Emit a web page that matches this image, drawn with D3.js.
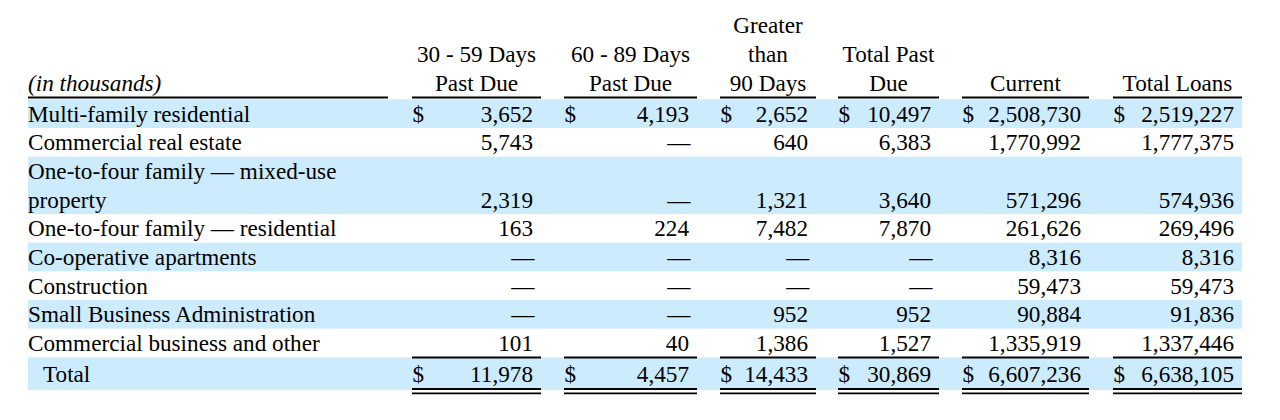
<!DOCTYPE html>
<html>
<head>
<meta charset="utf-8">
<script src="https://cdn.jsdelivr.net/npm/d3@7"></script>
<style>
  html, body { margin: 0; padding: 0; background: #ffffff; }
  svg { display: block; }
  text { font-family: "Liberation Serif", "Times New Roman", serif; font-size: 23.2px; fill: #000; }
</style>
</head>
<body>
<svg id="chart" width="1280" height="420"></svg>
<script>
// ---------- data ----------
const unitsLabel = "(in thousands)";
const categories = [
  "Multi-family residential",
  "Commercial real estate",
  "One-to-four family \u2014 mixed-use property",
  "One-to-four family \u2014 residential",
  "Co-operative apartments",
  "Construction",
  "Small Business Administration",
  "Commercial business and other"
];
const totalLabel = "Total";
const columnHeaders = [
  ["30 - 59 Days", "Past Due"],
  ["60 - 89 Days", "Past Due"],
  ["Greater", "than", "90 Days"],
  ["Total Past", "Due"],
  ["Current"],
  ["Total Loans"]
];
const days30to59   = [3652, 5743, 2319, 163, null, null, null, 101];
const days60to89   = [4193, null, null, 224, null, null, null, 40];
const days90plus   = [2652, 640, 1321, 7482, null, null, 952, 1386];
const totalPastDue = [10497, 6383, 3640, 7870, null, null, 952, 1527];
const currentLoans = [2508730, 1770992, 571296, 261626, 8316, 59473, 90884, 1335919];
const totalLoans   = [2519227, 1777375, 574936, 269496, 8316, 59473, 91836, 1337446];
const columnTotals = [11978, 4457, 14433, 30869, 6607236, 6638105];

const series = [days30to59, days60to89, days90plus, totalPastDue, currentLoans, totalLoans];

// ---------- layout ----------
const svg = d3.select("#chart");
const labelX = 28, labelRight = 388, bandRight = 1242;
const colLeft  = d3.scaleOrdinal().domain(d3.range(6)).range([412, 564, 720, 838, 962, 1113]);
const colRight = d3.scaleOrdinal().domain(d3.range(6)).range([541, 697, 816, 939, 1089, 1242]);
const bandColor = "#ccebfd";
const lineH = 28.67;
const top0 = 99.3;
const wrapWidth = 360;
const fmt = d3.format(",");

// word wrap for labels
const measurer = svg.append("text").attr("visibility", "hidden");
function wrap(str) {
  const words = str.split(" ");
  const lines = [];
  let cur = "";
  words.forEach(w => {
    const test = cur ? cur + " " + w : w;
    measurer.text(test);
    if (measurer.node().getComputedTextLength() > wrapWidth && cur) {
      lines.push(cur); cur = w;
    } else cur = test;
  });
  lines.push(cur);
  return lines;
}
const rows = categories.map((c, i) => ({ label: c, lines: wrap(c), i }));
measurer.remove();
let acc = 0;
rows.forEach(r => { r.start = acc; acc += r.lines.length; });
const totalLines = acc;
const y = d3.scaleLinear().domain([0, totalLines]).range([top0, top0 + totalLines * lineH]);
const totalTop = y(totalLines), totalBottom = 390;

// bands (alternate)
svg.append("g").selectAll("rect")
  .data(rows.filter(r => r.i % 2 === 0))
  .join("rect")
  .attr("x", labelX).attr("width", bandRight - labelX)
  .attr("y", r => y(r.start))
  .attr("height", r => y(r.start + r.lines.length) - y(r.start))
  .attr("fill", bandColor);
svg.append("rect")
  .attr("x", labelX).attr("width", bandRight - labelX)
  .attr("y", totalTop).attr("height", totalBottom - totalTop)
  .attr("fill", bandColor);

// headers
const headerBase = 90.7;
svg.append("text").attr("x", labelX).attr("y", headerBase)
  .style("font-style", "italic").text(unitsLabel);
columnHeaders.forEach((lines, c) => {
  const cx = (colLeft(c) + colRight(c)) / 2;
  lines.forEach((ln, k) => {
    svg.append("text").attr("x", cx)
      .attr("y", headerBase - (lines.length - 1 - k) * 28.8)
      .attr("text-anchor", "middle").text(ln);
  });
});

// header rules
const rule = (x1, x2, yy, w) => svg.append("line")
  .attr("x1", x1).attr("x2", x2).attr("y1", yy).attr("y2", yy)
  .attr("stroke", "#000").attr("stroke-width", w);
rule(labelX, labelRight, 97.6, 2);
d3.range(6).forEach(c => rule(colLeft(c), colRight(c), 97.6, 2));

// row labels
rows.forEach(r => {
  r.lines.forEach((ln, k) => {
    svg.append("text").attr("x", labelX).attr("y", y(r.start + k) + 22.4).text(ln);
  });
});

// cell values
const valueOffset = 8;
series.forEach((vals, c) => {
  rows.forEach(r => {
    const v = vals[r.i];
    const yy = y(r.start + r.lines.length - 1) + 22.4;
    if (r.i === 0) {
      svg.append("text").attr("x", colLeft(c) + 0.5).attr("y", yy).text("$");
    }
    svg.append("text").attr("x", colRight(c) - valueOffset + (v == null ? 1.5 : 0)).attr("y", yy)
      .attr("text-anchor", "end").text(v == null ? "\u2014" : fmt(v));
  });
});

// total row
const totalBase = totalTop + 24.2;
svg.append("text").attr("x", 43).attr("y", totalBase).text(totalLabel);
columnTotals.forEach((v, c) => {
  svg.append("text").attr("x", colLeft(c) + 0.5).attr("y", totalBase).text("$");
  svg.append("text").attr("x", colRight(c) - valueOffset).attr("y", totalBase)
    .attr("text-anchor", "end").text(fmt(v));
  rule(colLeft(c), colRight(c), totalTop + 0.2, 2);
  rule(colLeft(c), colRight(c), 389, 1.8);
  rule(colLeft(c), colRight(c), 393.4, 1.8);
});
</script>
</body>
</html>
